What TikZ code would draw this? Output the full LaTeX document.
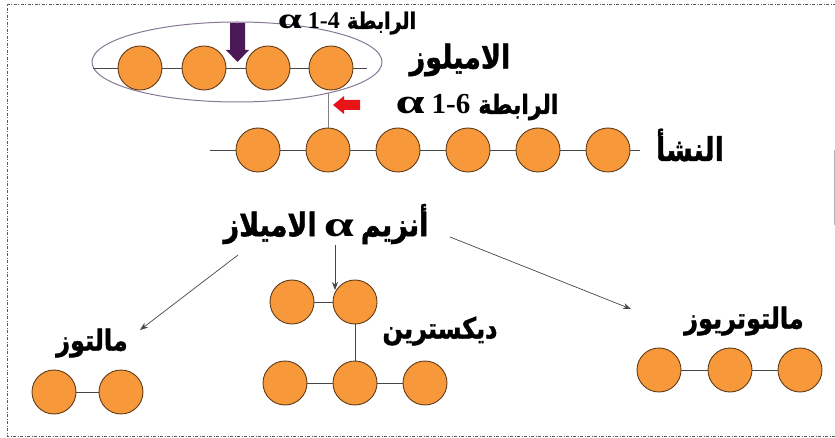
\documentclass[tikz,border=0pt]{standalone}
\usepackage{fontspec}
\usepackage{graphicx}
\usetikzlibrary{shapes.geometric,arrows.meta}
\TeXXeTstate=1
\newfontfamily\arfont[Script=Arabic, BoldFeatures={FakeBold=1.5}]{DejaVu Sans}
\newfontfamily\lfont{Liberation Serif}
\definecolor{ballfill}{RGB}{247,152,58}
\definecolor{ballline}{RGB}{95,60,25}
\definecolor{bondc}{RGB}{70,70,70}
\definecolor{ellc}{RGB}{135,120,150}
\definecolor{purp}{RGB}{75,25,85}
\definecolor{redarr}{RGB}{232,20,25}
\definecolor{framec}{RGB}{90,90,90}
\newcommand{\alp}{{\lfont\bfseries\scalebox{1.8}[1.2]{α}}}
\newcommand{\arw}[2]{{\arfont\bfseries\fontsize{#1}{#1}\selectfont\scalebox{1}[1.2]{\beginR #2\endR}}}
\tikzset{
  ball/.style={circle, draw=ballline, fill=ballfill, line width=0.9pt, minimum size=44pt, inner sep=0pt},
  bond/.style={draw=bondc, line width=0.9pt},
  arr/.style={draw=bondc, line width=0.7pt, -{Stealth[length=8pt,width=6pt]}},
  lbl/.style={inner sep=0pt, text=black},
}
\begin{document}
\begin{tikzpicture}[x=1pt,y=-1pt]
\useasboundingbox (0,0) rectangle (835,438);
% frame
\draw[framec, line width=0.5pt, dash pattern=on 3pt off 1.5pt on 1pt off 1.5pt] (836,4) -- (7,4) -- (7,436) -- (836,436);
\draw[gray!60, line width=0.8pt] (834,150) -- (834,225);

% amylose
\node[ellipse, draw=ellc, line width=1pt, minimum width=290pt, minimum height=80pt, inner sep=0pt] (amy) at (237,62) {};
\coordinate (aL) at (93,68);
\coordinate (aR) at (367,68);
\node[ball] (a1) at (140,68) {};
\node[ball] (a2) at (204,68) {};
\node[ball] (a3) at (268,68) {};
\node[ball] (a4) at (331,68) {};
\draw[bond] (aL) -- (a1) -- (a2) -- (a3) -- (a4) -- (aR);
\fill[purp] (230,23) -- (245,23) -- (245,50) -- (249,50) -- (237.5,62) -- (226,50) -- (230,50) -- cycle;

% starch
\coordinate (sL) at (210,150);
\coordinate (sR) at (640,150);
\node[ball] (s1) at (258,150) {};
\node[ball] (s2) at (328,150) {};
\node[ball] (s3) at (398,150) {};
\node[ball] (s4) at (468,150) {};
\node[ball] (s5) at (538,150) {};
\node[ball] (s6) at (608,150) {};
\draw[bond] (sL) -- (s1) -- (s2) -- (s3) -- (s4) -- (s5) -- (s6) -- (sR);
\coordinate (br) at (328,93);
\draw[bond, draw=gray] (br) -- (s2);
\fill[redarr] (333,105) -- (344,96) -- (344,100) -- (360,100) -- (360,110) -- (344,110) -- (344,114) -- cycle;

% labels top
\node[lbl] (b14) at (347,23) {{\lfont\bfseries\fontsize{24}{28}\selectfont \alp\hspace{6pt}1-4}\hspace{7pt}\arw{19}{الرابطة}};
\node[lbl] (amyl) at (460,60) {\arw{27}{الاميلوز}};
\node[lbl] (b16) at (477,107) {{\lfont\bfseries\fontsize{29}{32}\selectfont \alp\hspace{7pt}1-6}\hspace{8pt}\arw{22}{الرابطة}};
\node[lbl] (starch) at (690,145) {\arw{27}{النشأ}};

% enzyme
\node[lbl] (enz) at (326,224) {\arw{27}{الاميلاز}\hspace{7pt}{\lfont\bfseries\fontsize{30}{34}\selectfont\alp}\hspace{7pt}\arw{27}{أنزيم}};
\coordinate (e1) at (238,255);
\coordinate (e1t) at (140,330);
\coordinate (e2) at (335,245);
\coordinate (e2t) at (335,290);
\coordinate (e3) at (450,237);
\coordinate (e3t) at (631,309);
\draw[arr] (e1) -- (e1t);
\draw[arr] (e2) -- (e2t);
\draw[arr] (e3) -- (e3t);

% maltose
\node[lbl] (malt) at (92,343) {\arw{24}{مالتوز}};
\node[ball] (m1) at (54,392) {};
\node[ball] (m2) at (121,392) {};
\draw[bond] (m1) -- (m2);

% dextrin
\node[ball] (d1) at (292,302) {};
\node[ball] (d2) at (355,302) {};
\draw[bond] (d1) -- (d2);
\node[lbl] (dext) at (440,331) {\arw{24}{ديكسترين}};
\node[ball] (d3) at (285,383) {};
\node[ball] (d4) at (355,383) {};
\node[ball] (d5) at (425,383) {};
\draw[bond] (d3) -- (d4) -- (d5);
\draw[bond] (d2) -- (d4);

% maltotriose
\node[lbl] (maltt) at (744,321) {\arw{24}{مالتوتريوز}};
\node[ball] (t1) at (659,370) {};
\node[ball] (t2) at (730,370) {};
\node[ball] (t3) at (800,370) {};
\draw[bond] (t1) -- (t2) -- (t3);
\end{tikzpicture}
\end{document}
